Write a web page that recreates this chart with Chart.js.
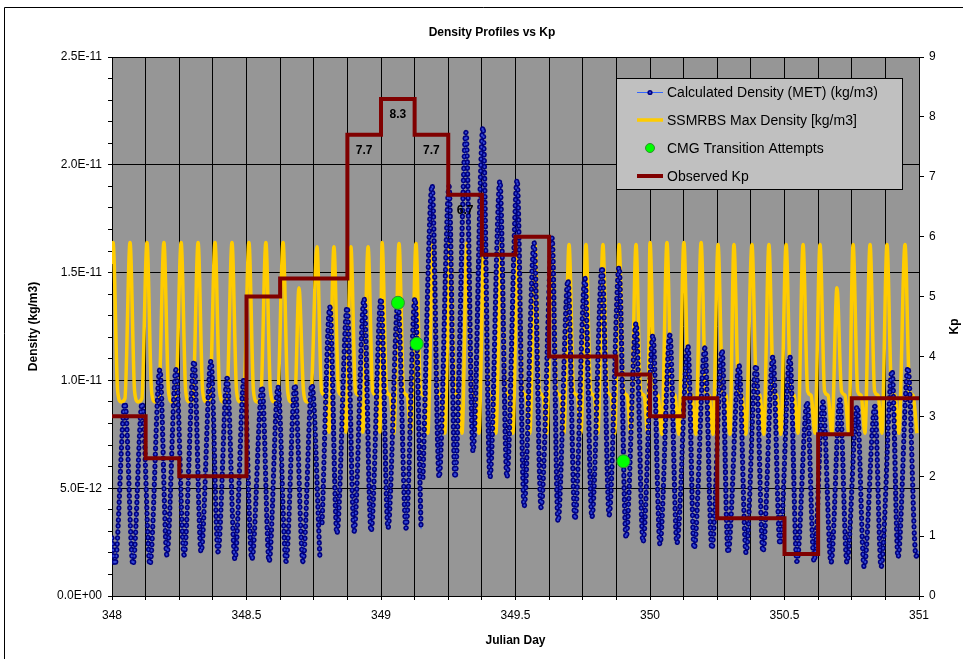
<!DOCTYPE html>
<html>
<head>
<meta charset="utf-8">
<title>Density Profiles vs Kp</title>
<script src="https://cdn.jsdelivr.net/npm/chart.js@4.4.1/dist/chart.umd.min.js"></script>
<style>
  html, body { margin: 0; padding: 0; background: #fff; }
  #chart { display: block; }
</style>
</head>
<body>
<canvas id="chart" width="963" height="659"></canvas>
<script>
/* Density Profiles vs Kp
 *   left axis  : density (kg/m3), values below are kept in units of 1e-12
 *   right axis : Kp (3-hour steps)
 */
var DENS_UNIT = 1e-12;

/* Calculated Density (MET): trough / peak of each orbit, null = gap in the data */
var metDay = [
  348.000, 348.011, 348.048, 348.078, 348.112, 348.141, 348.178, 348.204, 348.238, 348.268,
  348.305, 348.331, 348.368, 348.394, 348.428, 348.457, 348.491, 348.520, 348.558, 348.584,
  348.617, 348.647, 348.680, 348.710, 348.743, 348.773, 348.777,
  348.781, 348.810, 348.836, 348.874, 348.900, 348.937, 348.963, 349.000, 349.026, 349.063,
  349.093, 349.126, 349.149, 349.152,
  349.156, 349.190, 349.216, 349.253, 349.275, 349.316, 349.342, 349.379, 349.405, 349.442,
  349.468, 349.506, 349.532, 349.569, 349.595, 349.636, 349.658, 349.695, 349.721, 349.758,
  349.784, 349.822, 349.848, 349.885, 349.911, 349.948, 349.974, 350.011, 350.037, 350.074,
  350.100, 350.141, 350.164, 350.204, 350.230, 350.268, 350.290, 350.331, 350.357, 350.394,
  350.420, 350.457, 350.483, 350.520, 350.546, 350.584, 350.610, 350.643, 350.673, 350.706,
  350.732, 350.770, 350.796, 350.836, 350.859, 350.900, 350.922, 350.959, 350.989, 351.000
];
var metDensity = [
  2.7, 1.45, 8.95, 1.45, 8.95, 1.45, 10.5, 1.9, 10.5, 1.9,
  10.9, 2.05, 10.9, 2.05, 10.1, 1.7, 10.1, 1.7, 9.7, 1.6,
  9.7, 1.6, 9.8, 1.6, 9.8, 1.75, null,
  3.4, 13.4, 2.9, 13.4, 3.0, 13.8, 3.0, 13.8, 3.15, 13.6,
  3.15, 13.8, 3.1, null,
  5.5, 19.05, 5.5, 19.0, 5.5, 21.5, 6.7, 21.75, 5.5, 19.25,
  5.5, 19.3, 4.15, 16.4, 4.1, 16.6, 3.45, 14.65, 3.55, 14.75,
  3.65, 15.25, 3.75, 15.25, 2.7, 12.65, 2.5, 12.1, 2.4, 12.1,
  2.45, 11.6, 2.2, 11.5, 2.2, 11.4, 2.0, 10.7, 2.0, 10.7,
  2.05, 11.1, 2.4, 11.1, 1.6, 9.0, 1.6, 9.0, 1.55, 9.1,
  1.55, 8.8, 1.35, 8.8, 1.35, 10.45, 1.8, 10.6, 1.85, 2.1
];

/* SSMRBS Max Density: peak of each orbit, then the fall, the shelf and the low before the next rise */
var SSM_START = 15.4;
var ssmPeakDay = [
  348.004, 348.067, 348.130, 348.193, 348.257, 348.320, 348.383, 348.446, 348.509, 348.572,
  348.636, 348.695, 348.762, 348.825, 348.888, 348.952, 349.004, 349.067, 349.130, 349.193,
  349.257, 349.320, 349.383, 349.446, 349.509, 349.572, 349.636, 349.699, 349.762, 349.825,
  349.885, 349.948, 350.000, 350.063, 350.126, 350.190, 350.253, 350.312, 350.379, 350.442,
  350.506, 350.569, 350.632, 350.695, 350.755, 350.818, 350.881, 350.948
];
var ssmPeak = [
  16.4, 16.4, 16.4, 16.4, 16.4, 16.4, 16.4, 16.4, 16.4, 16.4,
  16.4, 14.3, 16.2, 16.2, 16.2, 16.2, 16.4, 16.35, 16.35, 16.4,
  16.4, 16.4, 16.4, 16.4, 16.4, 16.4, 16.4, 16.3, 16.3, 16.3,
  16.3, 16.3, 16.4, 16.4, 16.4, 16.4, 16.3, 16.3, 16.3, 16.3,
  16.3, 16.3, 16.3, 14.3, 16.3, 16.3, 16.3, 16.3
];
var ssmFall = [
  9.5, 9.5, 9.5, 9.5, 9.5, 9.5, 9.5, 9.5, 9.5, 9.5,
  9.5, 9.5, 9.5, 9.5, 9.5, 9.5, 9.5, 9.5, 9.5, 9.5,
  9.5, 9.5, 9.5, 9.5, 9.5, 9.5, 9.5, 9.5, 9.5, 9.5,
  9.5, 9.5, 9.5, 9.5, 9.5, 9.5, 9.5, 9.5, 9.5, 9.5,
  9.5, 9.5, 9.5, 9.5, 9.5, 9.5, 9.5, 9.5
];
var ssmShelf = [
  9.0, 9.0, 9.0, 9.0, 9.0, 9.0, 9.0, 9.0, 9.0, 9.0,
  9.0, 9.0, 9.3, 9.3, 9.3, 9.3, 9.3, 9.3, 9.3, 9.3,
  9.3, 9.3, 9.3, 9.3, 9.3, 9.3, 9.3, 9.3, 9.3, 9.3,
  9.3, 9.3, 9.3, 9.3, 9.3, 9.3, 9.3, 9.3, 9.3, 9.3,
  9.3, 9.3, 9.3, 9.3, 9.3, 9.3, 9.3, 9.3
];
var ssmLow = [
  9.15, 9.15, 9.15, 9.15, 9.15, 9.15, 9.15, 9.15, 9.15, 9.15,
  9.15, 9.15, 7.6, 7.6, 7.6, 7.6, 7.55, 7.55, 7.55, 7.55,
  7.55, 7.55, 7.55, 7.55, 7.55, 7.55, 7.55, 7.55, 7.55, 7.55,
  7.5, 7.5, 7.5, 7.5, 7.5, 7.5, 7.5, 7.5, 7.5, 7.5,
  7.55, 7.55, 7.55, 7.55, 7.55, 7.55, 7.55, 7.55
];
var SSM_STEP = [0.017, 0.030, 0.044];   // days after each peak: fall, shelf, low

/* CMG Transition Attempts */
var cmgDay = [349.063, 349.133, 349.901];
var cmgDensity = [13.6, 11.7, 6.25];

/* Observed Kp, one value per 3-hour slot (last entry closes the final step) */
var kpDay = [348, 348.125, 348.25, 348.375, 348.5, 348.625, 348.75, 348.875, 349, 349.125, 349.25, 349.375,
             349.5, 349.625, 349.75, 349.875, 350, 350.125, 350.25, 350.375, 350.5, 350.625, 350.75, 350.875, 351];
var kpValue = [3.0, 2.3, 2.0, 2.0, 5.0, 5.3, 5.3, 7.7, 8.3, 7.7, 6.7, 5.7,
               6.0, 4.0, 4.0, 3.7, 3.0, 3.3, 1.3, 1.3, 0.7, 2.7, 3.3, 3.3, 3.3];
var kpLabel = ['', '', '', '', '', '', '', '7.7', '8.3', '7.7', '6.7', '',
               '', '', '', '', '', '', '', '', '', '', '', '', ''];

var legendText = ['Calculated Density (MET) (kg/m3)', 'SSMRBS Max Density [kg/m3]', 'CMG Transition Attempts', 'Observed Kp'];

var FONT = 'Arial, "Liberation Sans", sans-serif';
Chart.defaults.font.family = FONT;
Chart.defaults.font.size = 12;
Chart.defaults.color = '#000';

function metPoints() {
  return metDay.map(function (t, i) {
    return { x: t, y: metDensity[i] === null ? null : metDensity[i] * DENS_UNIT };
  });
}

function ssmPoints() {
  var pts = [{ x: 348, y: SSM_START * DENS_UNIT }];
  ssmPeakDay.forEach(function (t, i) {
    pts.push({ x: t, y: ssmPeak[i] * DENS_UNIT });
    pts.push({ x: t + SSM_STEP[0], y: ssmFall[i] * DENS_UNIT });
    pts.push({ x: t + SSM_STEP[1], y: ssmShelf[i] * DENS_UNIT });
    pts.push({ x: t + SSM_STEP[2], y: ssmLow[i] * DENS_UNIT });
  });
  return pts;
}

function isMajor(v) {
  var r = v / 5e-12;
  return Math.abs(r - Math.round(r)) < 1e-6;
}
function sciLabel(v) {
  if (Math.abs(v) < 1e-20) return '0.0E+00';
  return v.toExponential(1).toUpperCase();
}

/* -------- plugins: frame / plot background / titles, Kp labels, legend box -------- */
var framePlugin = {
  id: 'frame',
  beforeDraw: function (chart) {
    var ctx = chart.ctx, a = chart.chartArea;
    ctx.save();
    ctx.fillStyle = '#fff';
    ctx.fillRect(0, 0, chart.width, chart.height);
    ctx.strokeStyle = '#000';
    ctx.lineWidth = 1;
    ctx.beginPath();
    ctx.moveTo(4.5, chart.height);
    ctx.lineTo(4.5, 7.5);
    ctx.lineTo(chart.width, 7.5);
    ctx.stroke();
    ctx.fillStyle = '#969696';
    ctx.fillRect(a.left, a.top, a.right - a.left, a.bottom - a.top);
    ctx.font = 'bold 12px ' + FONT;
    ctx.fillStyle = '#000';
    ctx.textAlign = 'center';
    ctx.textBaseline = 'middle';
    ctx.fillText('Density Profiles vs Kp', 492, 33);
    // right axis title reads upwards like the left one
    ctx.translate(955, (a.top + a.bottom) / 2);
    ctx.rotate(-Math.PI / 2);
    ctx.fillText('Kp', 0, 0);
    ctx.restore();
  }
};

var kpLabelPlugin = {
  id: 'kpLabels',
  afterDatasetsDraw: function (chart) {
    var xs = chart.scales.x, ys = chart.scales.yKp, ctx = chart.ctx;
    ctx.save();
    ctx.font = 'bold 12px ' + FONT;
    ctx.fillStyle = '#000';
    ctx.textAlign = 'center';
    ctx.textBaseline = 'middle';
    kpLabel.forEach(function (txt, i) {
      if (!txt) return;
      var x = (xs.getPixelForValue(kpDay[i]) + xs.getPixelForValue(kpDay[i + 1])) / 2;
      ctx.fillText(txt, x, ys.getPixelForValue(kpValue[i]) + 16);
    });
    ctx.restore();
  }
};

var legendPlugin = {
  id: 'boxLegend',
  afterDraw: function (chart) {
    var ctx = chart.ctx;
    var bx = 616, by = 78, bw = 286, bh = 111, rowY = [92, 120, 148, 176];
    var s0 = 637, s1 = 663, sc = 650;
    ctx.save();
    ctx.fillStyle = '#c0c0c0';
    ctx.fillRect(bx, by, bw, bh);
    ctx.strokeStyle = '#000';
    ctx.lineWidth = 1;
    ctx.strokeRect(bx + 0.5, by + 0.5, bw, bh);

    // MET: thin line with a marker
    ctx.strokeStyle = '#3366ff'; ctx.lineWidth = 1;
    ctx.beginPath(); ctx.moveTo(s0, rowY[0] + 0.5); ctx.lineTo(s1, rowY[0] + 0.5); ctx.stroke();
    ctx.fillStyle = '#000080';
    ctx.beginPath(); ctx.arc(sc, rowY[0] + 0.5, 2.6, 0, Math.PI * 2); ctx.fill();
    ctx.fillStyle = '#3347d6';
    ctx.beginPath(); ctx.arc(sc, rowY[0] + 0.5, 1.1, 0, Math.PI * 2); ctx.fill();
    // SSMRBS
    ctx.strokeStyle = '#ffcc00'; ctx.lineWidth = 3.5;
    ctx.beginPath(); ctx.moveTo(s0, rowY[1]); ctx.lineTo(s1, rowY[1]); ctx.stroke();
    // CMG
    ctx.fillStyle = '#00ff00'; ctx.strokeStyle = '#2f8f2f'; ctx.lineWidth = 1;
    ctx.beginPath(); ctx.arc(sc, rowY[2], 4.5, 0, Math.PI * 2); ctx.fill(); ctx.stroke();
    // Kp
    ctx.strokeStyle = '#800000'; ctx.lineWidth = 4;
    ctx.beginPath(); ctx.moveTo(s0, rowY[3]); ctx.lineTo(s1, rowY[3]); ctx.stroke();

    ctx.font = '14px ' + FONT;
    ctx.fillStyle = '#000';
    ctx.textAlign = 'left';
    ctx.textBaseline = 'middle';
    legendText.forEach(function (t, i) { ctx.fillText(t, 667, rowY[i] + 1); });
    ctx.restore();
  }
};

/* -------- chart -------- */
var met = metPoints();
var lineBase = { pointRadius: 0, pointHoverRadius: 0, cubicInterpolationMode: 'monotone', spanGaps: false, yAxisID: 'y' };

new Chart(document.getElementById('chart').getContext('2d'), {
  type: 'line',
  data: {
    datasets: [
      Object.assign({ label: legendText[1], data: ssmPoints(), borderColor: '#ffcc00', borderWidth: 3.5, order: 7 }, lineBase),
      Object.assign({ label: 'met-line', data: met, borderColor: '#3366ff', borderWidth: 1, order: 6 }, lineBase),
      Object.assign({ label: legendText[0], data: met, borderColor: '#000080', borderWidth: 5.2,
        borderDash: [0.5, 5.5], borderCapStyle: 'round', order: 5 }, lineBase),
      Object.assign({ label: 'met-dots', data: met, borderColor: '#3347d6', borderWidth: 2,
        borderDash: [0.5, 5.5], borderCapStyle: 'round', order: 4 }, lineBase),
      {
        type: 'scatter', label: legendText[2], yAxisID: 'y', order: 2, showLine: false,
        data: cmgDay.map(function (t, i) { return { x: t, y: cmgDensity[i] * DENS_UNIT }; }),
        pointRadius: 6.5, pointHoverRadius: 6.5, backgroundColor: '#00ff00', borderColor: '#2f8f2f', borderWidth: 1
      },
      {
        label: legendText[3], yAxisID: 'yKp', order: 1, stepped: true,
        data: kpDay.map(function (t, i) { return { x: t, y: kpValue[i] }; }),
        borderColor: '#800000', borderWidth: 4, borderJoinStyle: 'miter', borderCapStyle: 'butt',
        pointRadius: 0, pointHoverRadius: 0
      }
    ]
  },
  options: {
    responsive: false,
    animation: false,
    devicePixelRatio: 1,
    events: [],
    layout: { padding: { top: 57, left: 0, right: 0, bottom: 0 } },
    plugins: { legend: { display: false }, title: { display: false }, tooltip: { enabled: false } },
    scales: {
      x: {
        type: 'linear', position: 'bottom', min: 348, max: 351,
        afterFit: function (s) { s.height = 63; },
        ticks: {
          stepSize: 0.125, maxTicksLimit: 100, autoSkip: false, maxRotation: 0, padding: 8,
          font: { size: 12 },
          callback: function (v) { return Math.abs(v * 2 - Math.round(v * 2)) < 1e-9 ? String(v) : ''; }
        },
        grid: { color: '#000', lineWidth: 1, tickLength: 4, tickColor: '#000' },
        border: { color: '#000', width: 1 },
        title: { display: true, text: 'Julian Day', font: { size: 12, weight: 'bold' }, padding: { top: 0, bottom: 11 } }
      },
      y: {
        type: 'linear', position: 'left', min: 0, max: 2.5e-11,
        afterFit: function (s) { s.width = 112; },
        ticks: {
          stepSize: 1e-12, maxTicksLimit: 100, autoSkip: false, padding: 6, font: { size: 12 },
          callback: function (v) { return isMajor(v) ? sciLabel(v) : ''; }
        },
        grid: {
          lineWidth: 1, tickLength: 4, tickColor: '#000',
          color: function (c) { return c.tick && isMajor(c.tick.value) ? '#000' : 'rgba(0,0,0,0)'; }
        },
        border: { color: '#000', width: 1 },
        title: { display: true, text: 'Density (kg/m3)', font: { size: 12, weight: 'bold' }, padding: { top: 26, bottom: 0 } }
      },
      yKp: {
        type: 'linear', position: 'right', min: 0, max: 9,
        afterFit: function (s) { s.width = 44; },
        ticks: { stepSize: 1, autoSkip: false, padding: 5, font: { size: 12 } },
        grid: { drawOnChartArea: false, tickLength: 5, tickColor: '#000' },
        border: { color: '#000', width: 1 },
        title: { display: false }
      }
    }
  },
  plugins: [framePlugin, kpLabelPlugin, legendPlugin]
});
</script>
</body>
</html>
